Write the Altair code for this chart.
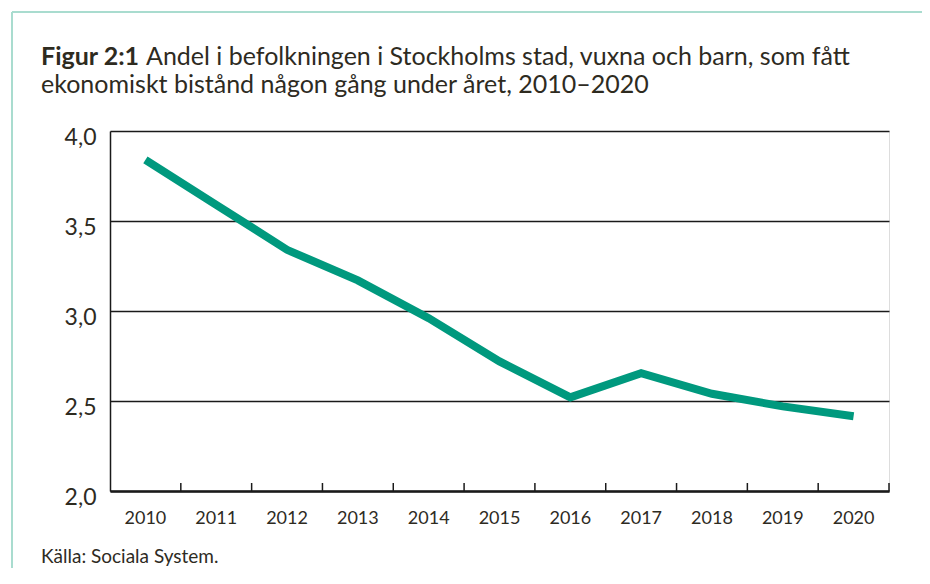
import altair as alt
import pandas as pd

years = ["2010", "2011", "2012", "2013", "2014", "2015", "2016", "2017", "2018", "2019", "2020"]
values = [3.84, 3.59, 3.34, 3.17, 2.96, 2.72, 2.52, 2.655, 2.54, 2.47, 2.415]
y_ticks = [2.0, 2.5, 3.0, 3.5, 4.0]

title_bold = ["Figur 2:1"]
title_rest = ["Andel i befolkningen i Stockholms stad, vuxna och barn, som fått"]
title_line2 = ["ekonomiskt bistånd någon gång under året, 2010–2020"]
source = ["Källa: Sociala System."]

FONT = "Lato"
TXT = "#2e2b1f"
TEAL = "#00997e"
BORDER = "#a9dccf"

df = pd.DataFrame({"year": years, "value": values})

xscale = alt.Scale(type="band", paddingInner=0, paddingOuter=0)
yscale = alt.Scale(domain=[2.0, 4.0], nice=False, zero=False)

base = alt.Chart(df)

line = base.mark_line(color=TEAL, strokeWidth=8, strokeCap="butt").encode(
    x=alt.X("year:O", scale=xscale, sort=years,
            axis=alt.Axis(title=None, labelAngle=0, tickSize=0, labelPadding=18,
                          labelFont=FONT, labelFontSize=18, labelColor=TXT,
                          domainColor="#1a1a1a", domainWidth=2.5, grid=False)),
    y=alt.Y("value:Q", scale=yscale,
            axis=alt.Axis(title=None, values=y_ticks, tickSize=0, labelPadding=14,
                          labelFont=FONT, labelFontSize=23, labelColor=TXT,
                          labelExpr="replace(format(datum.value, '.1f'), '.', ',')",
                          labelOffset=6, labelBaseline="middle",
                          grid=True, gridColor="#1a1a1a", gridWidth=1.4,
                          domainColor="#1a1a1a", domainWidth=1.5)),
)

ticks = base.mark_rule(color="#1a1a1a", strokeWidth=1.5).encode(
    x=alt.X("year:O", scale=xscale, sort=years, bandPosition=1),
    y=alt.value(352),
    y2=alt.value(360),
)

def txt(items, x, y, size, weight="normal"):
    d = pd.DataFrame({"t": items})
    return alt.Chart(d).mark_text(
        align="left", baseline="alphabetic", font=FONT, fontSize=size,
        fontWeight=weight, color=TXT
    ).encode(text="t:N", x=alt.value(x), y=alt.value(y))

t1 = txt(title_bold, -69, -66, 25, "bold")
t2 = txt(title_rest, 36, -66, 25)
t3 = txt(title_line2, -69, -38, 25)
src = txt(source, -69, 432, 19)

bd = pd.DataFrame({"k": [1]})
border_top = alt.Chart(bd).mark_rule(color=BORDER, strokeWidth=2).encode(
    x=alt.value(-98), x2=alt.value(830), y=alt.value(-119))
border_left = alt.Chart(bd).mark_rule(color=BORDER, strokeWidth=2).encode(
    x=alt.value(-98), y=alt.value(-119), y2=alt.value(460))

chart = alt.layer(border_top, border_left, line, ticks, t1, t2, t3, src).properties(
    width=779, height=360,
    padding={"left": 102, "top": 123, "right": 33, "bottom": 77},
    autosize=alt.AutoSizeParams(type="none"),
).configure_view(stroke=None).configure(background="white")

chart.save("out.html", embed_options={"renderer": "svg", "actions": False})
